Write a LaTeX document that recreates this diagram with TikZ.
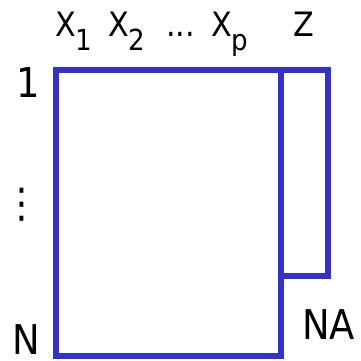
\documentclass[tikz,border=0pt]{standalone}
\usepackage{fontspec}
\setmainfont{DejaVu Sans Condensed}
\usetikzlibrary{positioning}
\definecolor{matblue}{RGB}{51,51,204}
\newcommand{\lowidx}[1]{\raisebox{-14pt}{\fontsize{29}{29}\selectfont #1}}
\tikzset{
  matbox/.style={draw=matblue, line width=6pt},
  collab/.style={font=\fontsize{33.6}{36}\selectfont, inner sep=0pt, anchor=base west},
  rowlab/.style={font=\fontsize{41}{44}\selectfont, inner sep=0pt, anchor=base west}
}
\begin{document}
\begin{tikzpicture}[x=1pt,y=-1pt]
\useasboundingbox (0,0) rectangle (360,361);

% ---------------- data matrix and Z column ----------------
\draw[matbox] (56,70) rectangle (280.5,356);
\draw[matbox] (280.5,70) -- (328,70) -- (328,276) -- (280.5,276);

% ---------------- column labels ----------------
\node[collab] (x1) at (55,37) {X\lowidx{1}};
\node[collab] (x2) at (108,37) {X\lowidx{2}};
\node[collab] (xdots) at (166,37) {...};
\node[collab] (xp) at (211,37) {X\lowidx{p}};
\node[collab] (z) at (293,37) {Z};

% ---------------- row labels ----------------
\node[rowlab] (r1) at (16,97) {1};
\node[rowlab, anchor=center] (rdots) at (22,205) {⋮};
\node[rowlab] (rn) at (12,354) {N};
\node[rowlab] (na) at (302,339) {NA};

\end{tikzpicture}
\end{document}
